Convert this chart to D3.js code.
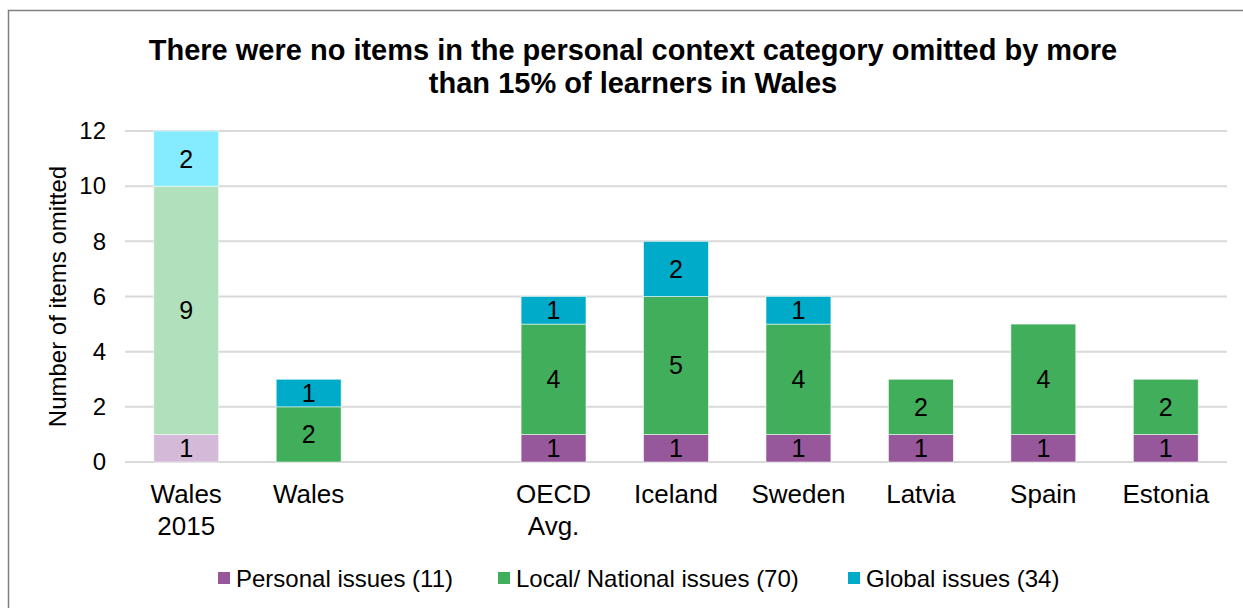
<!DOCTYPE html>
<html>
<head>
<meta charset="utf-8">
<script src="https://cdn.jsdelivr.net/npm/d3@7"></script>
<style>
  html, body { margin: 0; padding: 0; background: #fff; }
  svg { display: block; font-family: "Liberation Sans", Arial, sans-serif; }
</style>
</head>
<body>
<svg id="chart" width="1243" height="608"></svg>
<script>
// Countries (an empty slot separates the Wales bars from the comparison group)
const categories = ["Wales\n2015", "Wales", " ", "OECD\nAvg.", "Iceland", "Sweden", "Latvia", "Spain", "Estonia"];
const personal = [1, 0, 0, 1, 1, 1, 1, 1, 1];
const localNational = [9, 2, 0, 4, 5, 4, 2, 4, 2];
const global = [2, 1, 0, 1, 2, 1, 0, 0, 0];
const seriesNames = ["Personal issues (11)", "Local/ National issues (70)", "Global issues (34)"];
const yTicks = [0, 2, 4, 6, 8, 10, 12];
const fadedCategories = ["Wales\n2015"];

const titleLines = [
  "There were no items in the personal context category omitted by more",
  "than 15% of learners in Wales"
];
const yAxisTitle = "Number of items omitted";

const colors = ["#96589b", "#41ae5c", "#00abca"];
const fadedColors = ["#d5b9d8", "#b0e1bc", "#85ebfe"];

const svg = d3.select("#chart");
const W = 1243, H = 608;

// outer chart frame
svg.append("rect")
  .attr("x", 8.5).attr("y", 10.5)
  .attr("width", W + 10).attr("height", H + 10)
  .attr("fill", "#fff").attr("stroke", "#7f7f7f").attr("stroke-width", 1.5);

const plot = { left: 125, right: 1227, top: 131, bottom: 462 };

const x = d3.scaleBand()
  .domain(categories)
  .range([plot.left, plot.right])
  .paddingInner(0.47).paddingOuter(0.235);

const y = d3.scaleLinear().domain([0, 12]).range([plot.bottom, plot.top]);

// horizontal gridlines
svg.append("g")
  .selectAll("line")
  .data(yTicks)
  .join("line")
  .attr("x1", plot.left).attr("x2", plot.right)
  .attr("y1", d => y(d)).attr("y2", d => y(d))
  .attr("stroke", "#d9d9d9").attr("stroke-width", 2);

// y axis tick labels
const yAxis = d3.axisLeft(y).tickValues(yTicks).tickSize(0).tickPadding(0);
const yg = svg.append("g")
  .attr("transform", `translate(${plot.left - 19},0)`)
  .call(yAxis);
yg.select(".domain").remove();
yg.selectAll("text")
  .attr("font-size", 24)
  .attr("fill", "#000")
  .attr("font-family", "Liberation Sans, Arial, sans-serif");

// y axis title
svg.append("text")
  .attr("transform", `translate(66,${(plot.top + plot.bottom) / 2}) rotate(-90)`)
  .attr("text-anchor", "middle")
  .attr("font-size", 24)
  .attr("fill", "#000")
  .text(yAxisTitle);

// stacked data
const rows = categories.map((c, i) => ({
  cat: c, s0: personal[i], s1: localNational[i], s2: global[i]
}));
const stack = d3.stack().keys(["s0", "s1", "s2"]);
const stacked = stack(rows);

const barG = svg.append("g");
stacked.forEach((layer, si) => {
  layer.forEach(seg => {
    const v = seg[1] - seg[0];
    if (v <= 0) return;
    const cat = seg.data.cat;
    const faded = fadedCategories.includes(cat);
    barG.append("rect")
      .attr("x", x(cat))
      .attr("width", x.bandwidth())
      .attr("y", y(seg[1]))
      .attr("height", y(seg[0]) - y(seg[1]))
      .attr("fill", faded ? fadedColors[si] : colors[si])
      .attr("stroke", "#fff").attr("stroke-width", 0.75).attr("stroke-opacity", 0.7);
    barG.append("text")
      .attr("x", x(cat) + x.bandwidth() / 2)
      .attr("y", (y(seg[0]) + y(seg[1])) / 2)
      .attr("dy", "0.36em")
      .attr("text-anchor", "middle")
      .attr("font-size", 25)
      .attr("fill", "#000")
      .text(v);
  });
});

// category labels
const xg = svg.append("g");
categories.forEach(c => {
  const lines = c.split("\n");
  const t = xg.append("text")
    .attr("text-anchor", "middle")
    .attr("font-size", 26)
    .attr("fill", "#000");
  lines.forEach((ln, k) => {
    t.append("tspan")
      .attr("x", x(c) + x.bandwidth() / 2)
      .attr("y", 503 + k * 32)
      .text(ln);
  });
});

// title
const tt = svg.append("text")
  .attr("text-anchor", "middle")
  .attr("font-size", 29)
  .attr("font-weight", "bold")
  .attr("fill", "#000");
titleLines.forEach((ln, k) => {
  tt.append("tspan").attr("x", 633).attr("y", 60 + k * 33).text(ln);
});

// legend
const legendX = [218, 498, 848];
const lg = svg.append("g");
seriesNames.forEach((name, i) => {
  lg.append("rect")
    .attr("x", legendX[i]).attr("y", 572)
    .attr("width", 12).attr("height", 12)
    .attr("fill", colors[i]);
  lg.append("text")
    .attr("x", legendX[i] + 18).attr("y", 587)
    .attr("font-size", 24)
    .attr("fill", "#000")
    .text(name);
});
</script>
</body>
</html>
